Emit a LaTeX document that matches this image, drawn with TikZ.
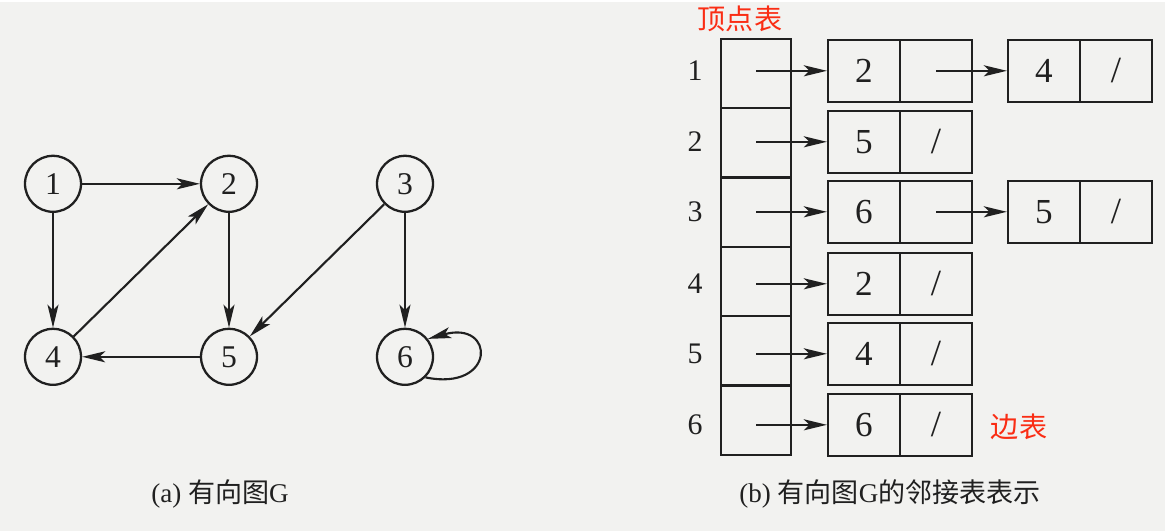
\documentclass[tikz,border=0pt]{standalone}
\usepackage{fontspec}
\setmainfont{Liberation Serif}
\newfontfamily\cjk{Noto Sans CJK SC}
\usetikzlibrary{arrows.meta}
\definecolor{paper}{RGB}{242,242,240}
\definecolor{ink}{RGB}{32,32,32}
\definecolor{redlbl}{RGB}{250,45,20}
\begin{document}
\begin{tikzpicture}[x=0.02cm,y=-0.02cm,
  vert/.style={circle,draw=ink,line width=1.3pt,minimum size=1.12cm,inner sep=0pt,
    font=\fontsize{18}{18}\selectfont,text=ink},
  arr/.style={draw=ink,line width=1.2pt,-{Stealth[length=4.6mm,width=2.2mm,inset=1.1mm]}},
  cellbox/.style={draw=ink,line width=1.3pt,minimum width=1.44cm,minimum height=1.24cm,
    inner sep=0pt,font=\fontsize{20}{20}\selectfont,text=ink},
  vcell/.style={minimum width=1.4cm,minimum height=1.38667cm,inner sep=0pt,outer sep=0pt},
  tableline/.style={draw=ink,line width=1.3pt},
  slash/.style={font=\fontsize{21}{21}\selectfont,text=ink},
  rowlbl/.style={font=\fontsize{17}{17}\selectfont,text=ink},
  caption/.style={font=\fontsize{15.4}{16}\selectfont,text=ink},
  redtext/.style={font=\cjk\fontsize{16}{16}\selectfont,text=redlbl}
]
\fill[paper] (0,0) rectangle (1165,529);

% ---- (a) directed graph ----
\node[vert] (n1) at (53,182) {1};
\node[vert] (n2) at (229,182) {2};
\node[vert] (n3) at (405,182) {3};
\node[vert] (n4) at (53,355) {4};
\node[vert] (n5) at (229,355) {5};
\node[vert] (n6) at (405,355) {6};
\draw[arr] (n1) -- (n2);
\draw[arr] (n1) -- (n4);
\draw[arr] (n4) -- (n2);
\draw[arr] (n2) -- (n5);
\draw[arr] (n3) -- (n5);
\draw[arr] (n3) -- (n6);
\draw[arr] (n5) -- (n4);
\draw[arr] (n6.-45) .. controls (496,390) and (496,318) .. (n6.38);
\node[caption] (capa) at (220,492) {(a) {\cjk 有向图}G};

% ---- (b) adjacency list ----
\node[redtext] (tv) at (740,17) {顶点表};
\foreach \k/\y in {1/37,2/106.333,3/175.667,4/245,5/314.333,6/383.667}{
  \node[vcell,anchor=north] (v\k) at (756,\y) {};
}
\draw[tableline] (v1.north west) rectangle (v6.south east);
\foreach \k in {1,...,5}{
  \draw[tableline] (v\k.south west) -- (v\k.south east);
}
\foreach \k/\y/\d in {1/69/2,2/140/5,3/210/6,4/282/2,5/352/4,6/423/6}{
  \node[rowlbl] (l\k) at (695,\y) {\k};
  \node[cellbox] (d\k) at (864,\y) {\d};
  \node[cellbox] (p\k) at (936,\y) {};
  \draw[arr] (v\k.center |- d\k.west) -- (d\k.west);
}
\foreach \k in {2,4,5,6}{
  \node[slash] (s\k) at (p\k) {/};
}
% second nodes
\node[cellbox] (e1) at (1044,69) {4};
\node[cellbox] (q1) at (1116,69) {};
\node[slash] (t1) at (q1) {/};
\node[cellbox] (e3) at (1044,210) {5};
\node[cellbox] (q3) at (1116,210) {};
\node[slash] (t3) at (q3) {/};
\draw[arr] (p1.center) -- (e1.west);
\draw[arr] (p3.center) -- (e3.west);
\node[redtext] (te) at (1019,425) {边表};
\node[caption] (capb) at (890,492) {(b) {\cjk 有向图}G{\cjk 的邻接表表示}};
\end{tikzpicture}
\end{document}
